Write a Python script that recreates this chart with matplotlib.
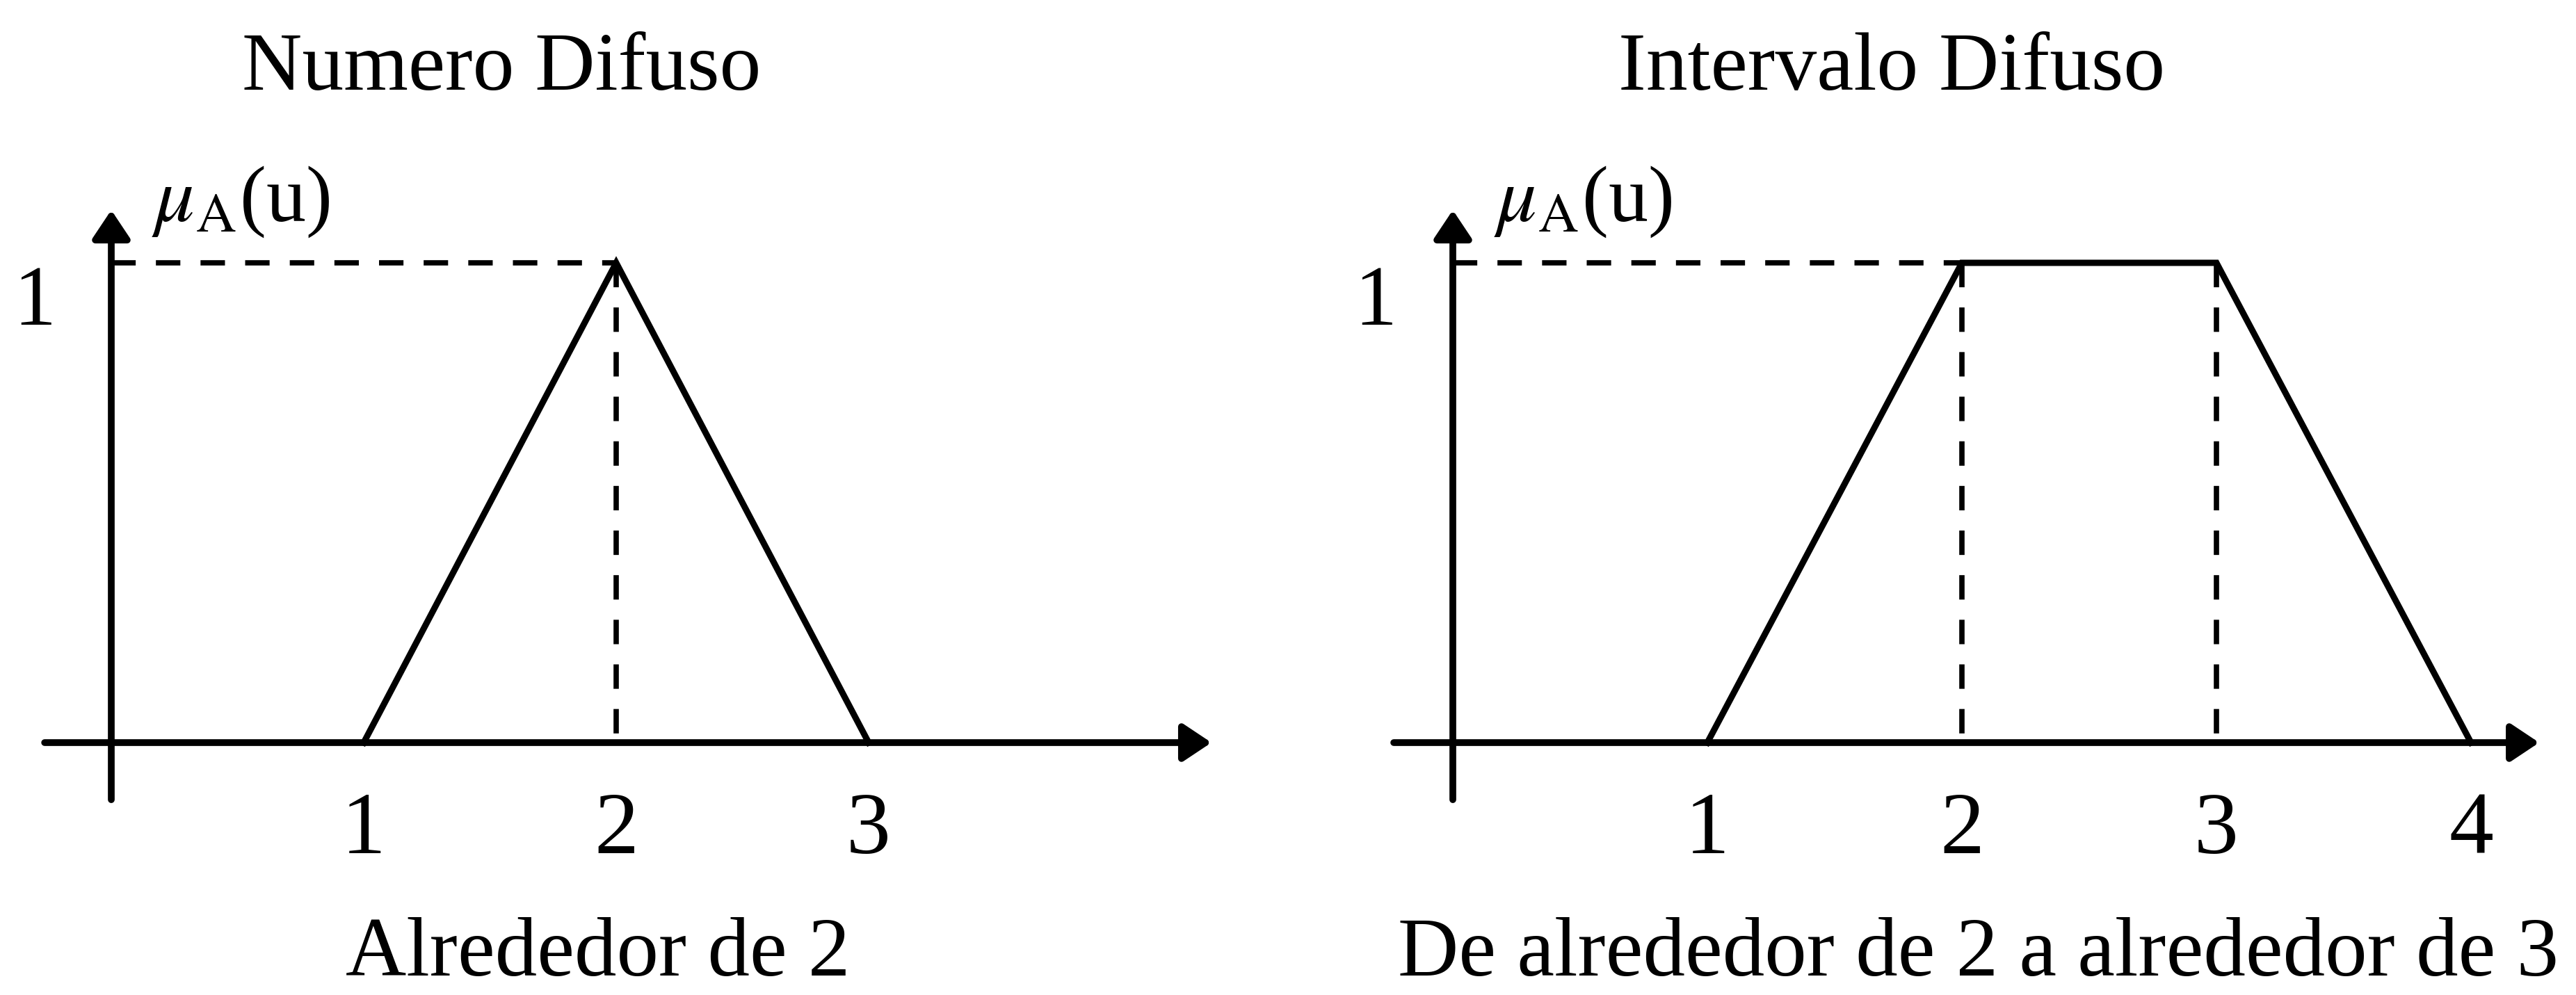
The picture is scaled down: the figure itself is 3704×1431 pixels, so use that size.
import matplotlib.pyplot as plt

# membership functions
tri_u = [1, 2, 3]
tri_mu = [0, 1, 0]
trap_u = [1, 2, 3, 4]
trap_mu = [0, 1, 1, 0]

left_ticks = [1, 2, 3]
right_ticks = [1, 2, 3, 4]

titles = ["Numero Difuso", "Intervalo Difuso"]
captions = ["Alrededor de 2", "De alrededor de 2 a alrededor de 3"]

plt.rcParams["font.family"] = ["Liberation Serif", "DejaVu Serif"]
plt.rcParams["mathtext.fontset"] = "stix"

W, H = 3705, 1431
fig = plt.figure(figsize=(W / 100, H / 100), dpi=100)
fig.patch.set_facecolor("white")

# y pixel mapping (from top): mu=0 at 1068, mu=1 at 378
Y0, YU = 1068, 690


def make_axes(x_from, x_to, u0, unit):
    ax = fig.add_axes([x_from / W, 0, (x_to - x_from) / W, 1])
    ax.set_xlim((x_from - u0) / unit, (x_to - u0) / unit)
    ax.set_ylim((Y0 - H) / YU, Y0 / YU)
    ax.axis("off")
    return ax


def arrow(ax, x0, y0, x1, y1):
    ax.annotate(
        "",
        xy=(x1, y1),
        xytext=(x0, y0),
        arrowprops=dict(
            arrowstyle="-|>,head_length=0.45,head_width=0.3",
            mutation_scale=55,
            lw=7,
            color="black",
            shrinkA=0,
            shrinkB=0,
        ),
    )


def dashed(ax, xs, ys):
    ax.plot(xs, ys, color="black", lw=5.5, linestyle=(0, (4.6, 3.8)),
            dash_capstyle="butt")


def draw_panel(ax, us, mus, ticks, caption, x_start, x_tip, cap_x):
    arrow(ax, x_start, 0, x_tip, 0)
    arrow(ax, 0, -0.119, 0, 1.11)

    peak = [u for u, m in zip(us, mus) if m == 1]
    dashed(ax, [0, peak[0]], [1, 1])
    for p in peak:
        dashed(ax, [p, p], [1, 0])

    ax.plot(us, mus, color="black", lw=6.5, solid_joinstyle="miter")

    for t in ticks:
        ax.text(t, -0.2304, str(t), ha="center", va="baseline", fontsize=92)

    ax.text(-0.303, 0.871, "1", ha="center", va="baseline", fontsize=88)
    ax.text(0.16, 1.087, r"$\mu_\mathrm{A}$(u)", ha="left", va="baseline",
            fontsize=82)

    # caption below the axis
    ax.text(cap_x, (Y0 - 1403) / YU, caption, ha="center", va="baseline",
            fontsize=87)


ax1 = make_axes(0, 1852, 160, 363)
ax2 = make_axes(1852, W, 2089, 366)

draw_panel(ax1, tri_u, tri_mu, left_ticks, captions[0],
           -0.264, 4.358, (860 - 160) / 363)
draw_panel(ax2, trap_u, trap_mu, right_ticks, captions[1],
           -0.232, 4.268, (2845 - 2089) / 366)

fig.text(721 / W, 1 - 129 / H, titles[0], ha="center", va="baseline",
         fontsize=86)
fig.text(2720 / W, 1 - 129 / H, titles[1], ha="center", va="baseline",
         fontsize=86)

fig.savefig("out.png", dpi=100, facecolor="white")
